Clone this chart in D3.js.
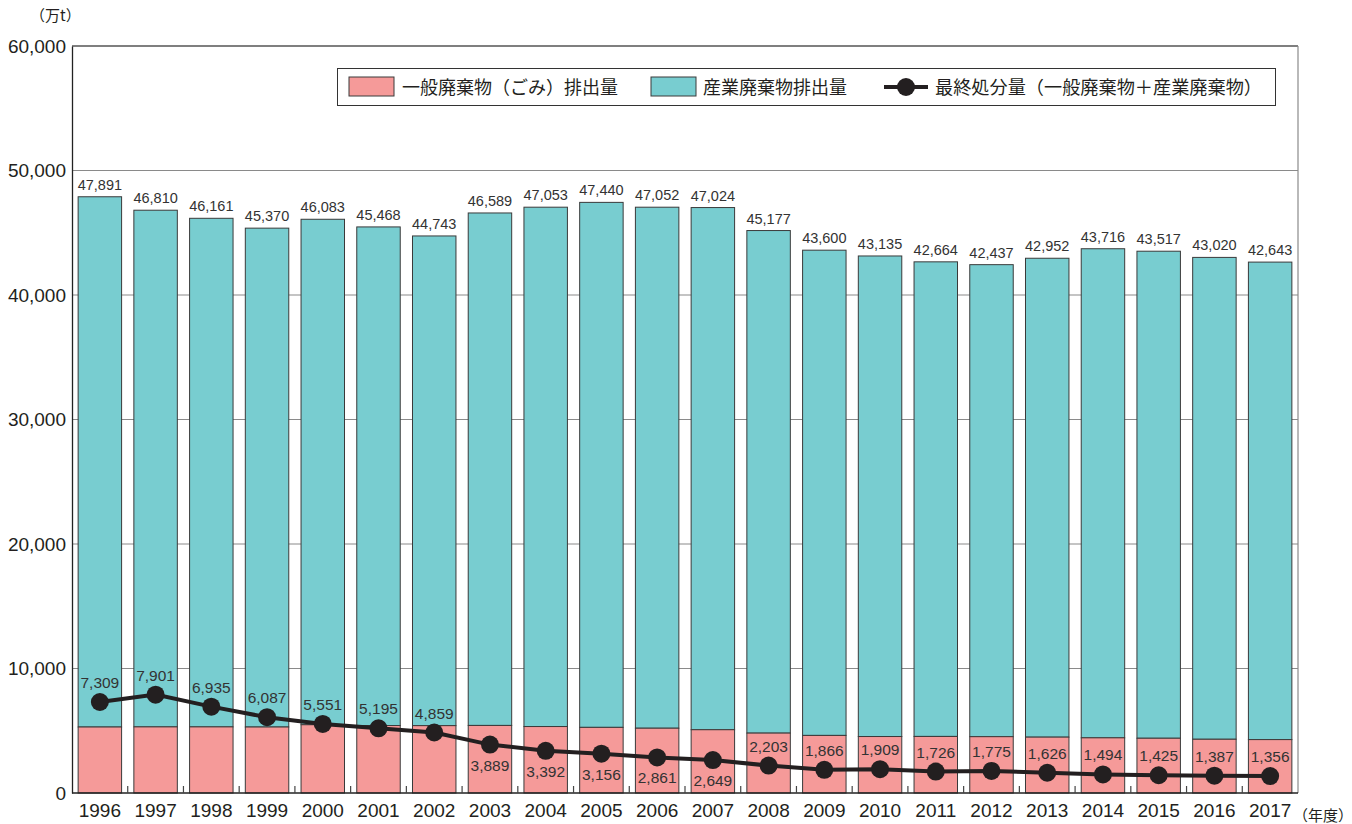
<!DOCTYPE html>
<html><head><meta charset="utf-8">
<script src="https://cdn.jsdelivr.net/npm/d3@7"></script>
<style>
body{margin:0;background:#fff;}
text{font-family:"Liberation Sans",Arial,"Noto Sans CJK JP",sans-serif;}
.jp{font-family:"Noto Sans CJK JP",sans-serif;}
</style></head>
<body><svg id="c" width="1352" height="824"></svg>
<script>
const years = ["1996","1997","1998","1999","2000","2001","2002","2003","2004","2005","2006","2007","2008","2009","2010","2011","2012","2013","2014","2015","2016","2017"];
const totalEmission = [47891,46810,46161,45370,46083,45468,44743,46589,47053,47440,47052,47024,45177,43600,43135,42664,42437,42952,43716,43517,43020,42643];
const generalWaste = [5300,5310,5310,5300,5483,5420,5410,5427,5338,5272,5204,5082,4811,4625,4536,4543,4523,4487,4432,4398,4317,4289];
const industrialWaste = totalEmission.map((t,i)=>t-generalWaste[i]);
const finalDisposal = [7309,7901,6935,6087,5551,5195,4859,3889,3392,3156,2861,2649,2203,1866,1909,1726,1775,1626,1494,1425,1387,1356];
const yTicks = [0,10000,20000,30000,40000,50000,60000];
const legendLabels = ["一般廃棄物（ごみ）排出量","産業廃棄物排出量","最終処分量（一般廃棄物＋産業廃棄物）"];

const pink="#f59a99", cyan="#78cdd0", dark="#231f20", textCol="#333";
const svg=d3.select("#c");
const L=72,R=1298,T=46,B=793;
const x=d3.scaleBand().domain(years).range([L,R]).paddingInner(0.22).paddingOuter(0.11);
const y=d3.scaleLinear().domain([0,60000]).range([B,T]);
const fmt=d3.format(",");

// gridlines
svg.append("g").selectAll("line").data(yTicks.filter(d=>d>0)).join("line")
 .attr("x1",L).attr("x2",R).attr("y1",d=>y(d)).attr("y2",d=>y(d))
 .attr("stroke",d=>d===60000?"#555":"#8a8a8a").attr("stroke-width",d=>d===60000?1.3:1.2);
// right frame
svg.append("line").attr("x1",R).attr("x2",R).attr("y1",T).attr("y2",B).attr("stroke","#8a8a8a").attr("stroke-width",1.2);

// bars
const g=svg.append("g");
years.forEach((yr,i)=>{
  const bx=x(yr), bw=x.bandwidth();
  g.append("rect").attr("x",bx).attr("width",bw).attr("y",y(totalEmission[i])).attr("height",y(generalWaste[i])-y(totalEmission[i]))
   .attr("fill",cyan).attr("stroke","#3a3a3a").attr("stroke-width",1);
  g.append("rect").attr("x",bx).attr("width",bw).attr("y",y(generalWaste[i])).attr("height",B-y(generalWaste[i]))
   .attr("fill",pink).attr("stroke","#3a3a3a").attr("stroke-width",1);
});

// y axis
const ya=svg.append("g").attr("transform",`translate(${L},0)`).call(d3.axisLeft(y).tickValues(yTicks).tickFormat(fmt).tickSize(0).tickPadding(6));
ya.select(".domain").attr("stroke","#222").attr("stroke-width",1.3);
ya.selectAll("text").attr("font-size",19).attr("fill",dark).attr("font-family","Liberation Sans, Arial, sans-serif");

// x axis
const xa=svg.append("g").attr("transform",`translate(0,${B})`).call(d3.axisBottom(x).tickSize(0).tickPadding(11));
xa.select(".domain").attr("d",`M${L},0H${R}`).attr("stroke","#222").attr("stroke-width",1.5);
xa.selectAll("text").attr("font-size",19).attr("fill",dark).attr("font-family","Liberation Sans, Arial, sans-serif");
// small ticks at band boundaries
svg.append("g").selectAll("line").data(years.slice(1)).join("line")
 .attr("x1",d=>x(d)-x.step()*x.paddingInner()/2).attr("x2",d=>x(d)-x.step()*x.paddingInner()/2)
 .attr("y1",B).attr("y2",B-7).attr("stroke","#444").attr("stroke-width",1.2);

// total labels
svg.append("g").selectAll("text").data(years).join("text")
 .attr("x",d=>x(d)+x.bandwidth()/2).attr("y",(d,i)=>y(totalEmission[i])-7)
 .attr("text-anchor","middle").attr("font-size",14.5).attr("fill",textCol).text((d,i)=>fmt(totalEmission[i]));

// line
const cx=d=>x(d)+x.bandwidth()/2;
svg.append("path").datum(years).attr("fill","none").attr("stroke",dark).attr("stroke-width",4)
 .attr("d",d3.line().x(d=>cx(d)).y((d,i)=>y(finalDisposal[i])));
svg.append("g").selectAll("circle").data(years).join("circle")
 .attr("cx",cx).attr("cy",(d,i)=>y(finalDisposal[i])).attr("r",9).attr("fill",dark);
const below=new Set(["2003","2004","2005","2006","2007"]);
svg.append("g").selectAll("text").data(years).join("text")
 .attr("x",cx).attr("y",(d,i)=>y(finalDisposal[i])+(below.has(d)?26:-14))
 .attr("text-anchor","middle").attr("font-size",15.5).attr("fill",textCol).text((d,i)=>fmt(finalDisposal[i]));

// unit labels
svg.append("text").attr("class","jp").attr("x",30).attr("y",21).attr("font-size",15).attr("fill",dark).text("（万t）");
svg.append("text").attr("class","jp").attr("x",1293).attr("y",821).attr("font-size",15).attr("fill",dark).text("（年度）");

// legend
const lg=svg.append("g");
lg.append("rect").attr("x",337.5).attr("y",68.5).attr("width",938).attr("height",37).attr("fill","#fff").attr("stroke","#333").attr("stroke-width",1);
lg.append("rect").attr("x",349).attr("y",77).attr("width",45).attr("height",19).attr("fill",pink).attr("stroke","#3a3a3a");
lg.append("text").attr("class","jp").attr("x",402).attr("y",94).attr("font-size",18).attr("fill",dark).text(legendLabels[0]);
lg.append("rect").attr("x",651).attr("y",77).attr("width",45).attr("height",19).attr("fill",cyan).attr("stroke","#3a3a3a");
lg.append("text").attr("class","jp").attr("x",703).attr("y",94).attr("font-size",18).attr("fill",dark).text(legendLabels[1]);
lg.append("line").attr("x1",884).attr("x2",928).attr("y1",87).attr("y2",87).attr("stroke",dark).attr("stroke-width",4);
lg.append("circle").attr("cx",906).attr("cy",87).attr("r",9).attr("fill",dark);
lg.append("text").attr("class","jp").attr("x",935).attr("y",94).attr("font-size",18).attr("fill",dark)
 .attr("textLength",327).attr("lengthAdjust","spacingAndGlyphs").text(legendLabels[2]);
</script></body></html>
